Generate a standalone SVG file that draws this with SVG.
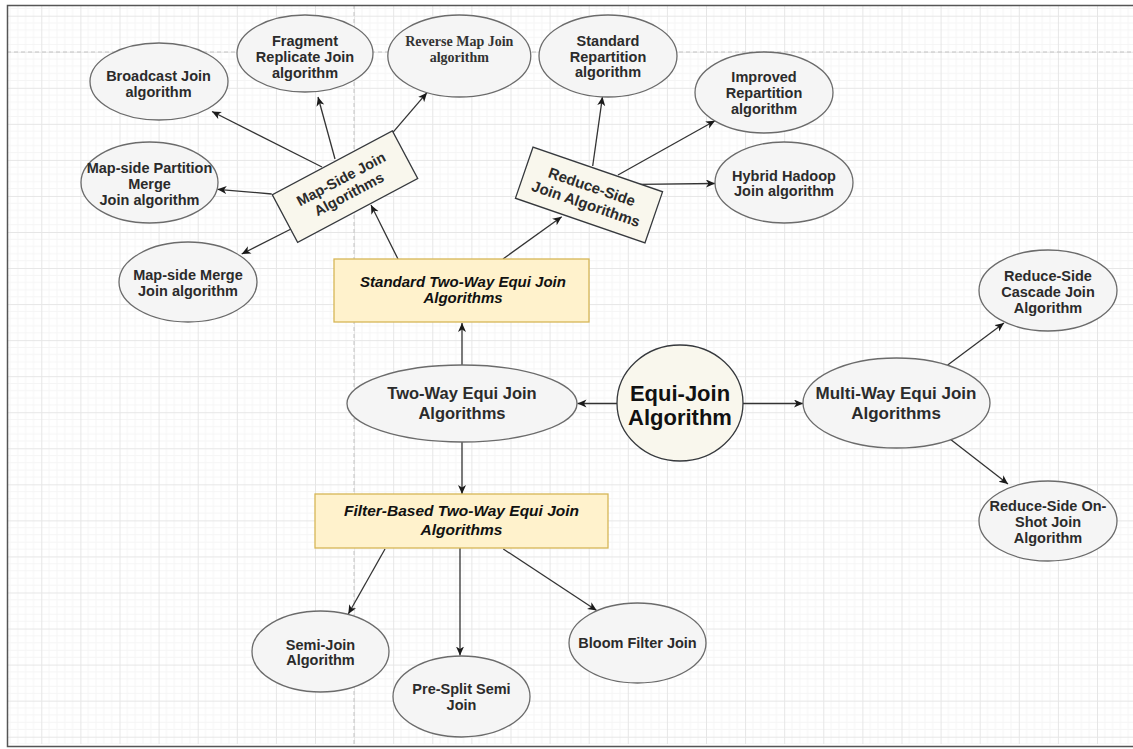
<svg xmlns="http://www.w3.org/2000/svg" width="1133" height="749" viewBox="0 0 1133 749">
<defs>
<pattern id="grid" patternUnits="userSpaceOnUse" x="2.2" y="15.7" width="39.1" height="36.05">
<path d="M7.82,0V36.05M15.64,0V36.05M23.46,0V36.05M31.28,0V36.05M0,7.21H39.1M0,14.42H39.1M0,21.63H39.1M0,28.84H39.1" stroke="#f5f5f5" stroke-width="1" fill="none"/>
<path d="M0.5,0V36.05M0,0.5H39.1" stroke="#e6e6e6" stroke-width="1" fill="none"/>
</pattern>
<marker id="arr" markerUnits="userSpaceOnUse" markerWidth="10" markerHeight="9" refX="9" refY="4" orient="auto">
<path d="M0,0 L9,4 L0,8 L2.5,4 z" fill="#1a1a1a"/>
</marker>
<style>
.el{fill:#f5f5f5;stroke:#6b6b6b;stroke-width:1.3}
.cream{fill:#f9f7ed;stroke:#36393d;stroke-width:1.3}
.yel{fill:#fff2cc;stroke:#d6b656;stroke-width:1.3}
.t{font-family:"Liberation Sans",Arial,sans-serif;font-weight:bold;font-size:14.5px;fill:#2b2b2b;text-anchor:middle}
.ti{font-family:"Liberation Sans",Arial,sans-serif;font-weight:bold;font-style:italic;fill:#111;text-anchor:middle}
.ts{font-family:"Liberation Serif","Times New Roman",serif;font-weight:bold;font-size:14px;fill:#333;text-anchor:middle}
.c{stroke:#333;stroke-width:1.3;fill:none;marker-end:url(#arr)}
</style>
</defs>
<g id="background">
<rect x="0" y="0" width="1133" height="749" fill="#ffffff"/>
<rect x="7" y="5" width="1126" height="739" fill="url(#grid)"/>
<path d="M7,52H1133" stroke="#c4c4c4" stroke-width="1" stroke-dasharray="4,3"/>
<path d="M354,5V745" stroke="#c4c4c4" stroke-width="1" stroke-dasharray="4,3"/>
<path d="M1133,5.5H7.5V746.5H1133" fill="none" stroke="#555" stroke-width="1.5"/>
</g>
<g id="connectors">
<path class="c" d="M462,365 L462,323"/>
<path class="c" d="M462,442 L462,494"/>
<path class="c" d="M617,403.5 L577.5,403.5"/>
<path class="c" d="M743,403.5 L803,403.5"/>
<path class="c" d="M398,259 L371,205"/>
<path class="c" d="M503,259 L561.7,216.7"/>
<path class="c" d="M322,167 L212,111.5"/>
<path class="c" d="M335,159 L318,97"/>
<path class="c" d="M392.7,132.7 L427,92.7"/>
<path class="c" d="M271.7,194 L217.5,189.3"/>
<path class="c" d="M292,228.5 L241.7,254"/>
<path class="c" d="M592.7,166 L602.5,96.7"/>
<path class="c" d="M618,175 L715,120.7"/>
<path class="c" d="M638,184.3 L715,183.5"/>
<path class="c" d="M947.7,365 L1004,323"/>
<path class="c" d="M950,439 L1008,484"/>
<path class="c" d="M385,549 L348.3,614"/>
<path class="c" d="M460,548 L460,655.5"/>
<path class="c" d="M503.3,549 L596.7,610.5"/>
</g>
<g id="broadcast">
<ellipse class="el" cx="159" cy="81.5" rx="69" ry="38.5"/>
<text class="t" x="158.5" y="81">Broadcast Join</text>
<text class="t" x="158.5" y="97">algorithm</text>
</g>
<g id="fragment">
<ellipse class="el" cx="305" cy="53.5" rx="68" ry="38.5"/>
<text class="t" x="305" y="46">Fragment</text>
<text class="t" x="305" y="62">Replicate Join</text>
<text class="t" x="305" y="77.5">algorithm</text>
</g>
<g id="partition-merge">
<ellipse class="el" cx="149.5" cy="182.5" rx="68.5" ry="40.5"/>
<text class="t" x="149.5" y="173">Map-side Partition</text>
<text class="t" x="149.5" y="189">Merge</text>
<text class="t" x="149.5" y="204.5">Join algorithm</text>
</g>
<g id="merge-join">
<ellipse class="el" cx="188" cy="282" rx="69" ry="40"/>
<text class="t" x="188" y="280">Map-side Merge</text>
<text class="t" x="188" y="296">Join algorithm</text>
</g>
<g id="reverse-map">
<ellipse class="el" cx="459.3" cy="56" rx="71.5" ry="41"/>
<text class="ts" x="459.3" y="45.5">Reverse Map Join</text>
<text class="ts" x="459.3" y="61.5">algorithm</text>
</g>
<g id="standard-repartition">
<ellipse class="el" cx="608" cy="56" rx="69" ry="41"/>
<text class="t" x="608" y="45.5">Standard</text>
<text class="t" x="608" y="61.5">Repartition</text>
<text class="t" x="608" y="77">algorithm</text>
</g>
<g id="improved-repartition">
<ellipse class="el" cx="764" cy="92.5" rx="69" ry="40.5"/>
<text class="t" x="764" y="82">Improved</text>
<text class="t" x="764" y="98">Repartition</text>
<text class="t" x="764" y="113.7">algorithm</text>
</g>
<g id="hybrid-hadoop">
<ellipse class="el" cx="784" cy="182.5" rx="69" ry="40.5"/>
<text class="t" x="784" y="180.5">Hybrid Hadoop</text>
<text class="t" x="784" y="196">Join algorithm</text>
</g>
<g id="map-side">
<g transform="translate(345,186.6) rotate(-28)">
<rect class="cream" x="-68" y="-27" width="136" height="54"/>
<text class="t" x="0" y="-3.5">Map-Side Join</text>
<text class="t" x="0" y="13.5">Algorithms</text>
</g>
</g>
<g id="reduce-side">
<g transform="translate(589,195) rotate(19)">
<rect class="cream" x="-68.5" y="-27" width="137" height="54"/>
<text class="t" x="0" y="-3.5" style="font-size:15px">Reduce-Side</text>
<text class="t" x="0" y="14.5" style="font-size:15px">Join Algorithms</text>
</g>
</g>
<g id="standard-two-way">
<rect class="yel" x="334" y="259" width="255" height="63"/>
<text class="ti" x="463" y="287" style="font-size:15px">Standard Two-Way Equi Join</text>
<text class="ti" x="463" y="302.5" style="font-size:15px">Algorithms</text>
</g>
<g id="two-way">
<ellipse class="el" cx="462" cy="403.5" rx="115" ry="38.5"/>
<text class="t" x="462" y="398.5" style="font-size:16.5px">Two-Way Equi Join</text>
<text class="t" x="462" y="418.5" style="font-size:16.5px">Algorithms</text>
</g>
<g id="equi-join">
<ellipse class="cream" cx="680" cy="403" rx="63" ry="58"/>
<text class="t" x="680" y="400.5" style="font-size:22px;fill:#111">Equi-Join</text>
<text class="t" x="680" y="424.5" style="font-size:22px;fill:#111">Algorithm</text>
</g>
<g id="multi-way">
<ellipse class="el" cx="896.5" cy="403" rx="93.5" ry="45"/>
<text class="t" x="896" y="399" style="font-size:17px">Multi-Way Equi Join</text>
<text class="t" x="896" y="419" style="font-size:17px">Algorithms</text>
</g>
<g id="cascade">
<ellipse class="el" cx="1048" cy="290.5" rx="69" ry="40.5"/>
<text class="t" x="1048" y="281">Reduce-Side</text>
<text class="t" x="1048" y="297">Cascade Join</text>
<text class="t" x="1048" y="312.7">Algorithm</text>
</g>
<g id="on-shot">
<ellipse class="el" cx="1048" cy="521" rx="69" ry="40"/>
<text class="t" x="1048" y="511">Reduce-Side On-</text>
<text class="t" x="1048" y="527">Shot Join</text>
<text class="t" x="1048" y="542.7">Algorithm</text>
</g>
<g id="filter-based">
<rect class="yel" x="315" y="494" width="293" height="54"/>
<text class="ti" x="461.5" y="516" style="font-size:15.5px">Filter-Based Two-Way Equi Join</text>
<text class="ti" x="461.5" y="535.4" style="font-size:15.5px">Algorithms</text>
</g>
<g id="semi-join">
<ellipse class="el" cx="320.5" cy="651.5" rx="68.5" ry="40.5"/>
<text class="t" x="320.5" y="649.5">Semi-Join</text>
<text class="t" x="320.5" y="665">Algorithm</text>
</g>
<g id="pre-split">
<ellipse class="el" cx="461.5" cy="696.5" rx="68.5" ry="40.5"/>
<text class="t" x="461.5" y="694">Pre-Split Semi</text>
<text class="t" x="461.5" y="710">Join</text>
</g>
<g id="bloom-filter">
<ellipse class="el" cx="637.5" cy="643" rx="68.5" ry="40"/>
<text class="t" x="637.5" y="648">Bloom Filter Join</text>
</g>
</svg>
